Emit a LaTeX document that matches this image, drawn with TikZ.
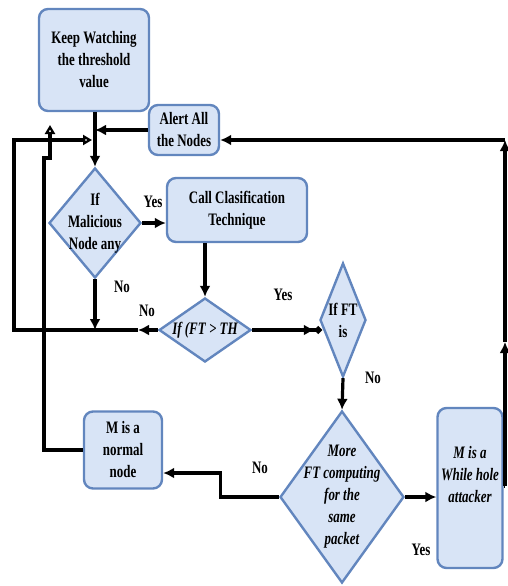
\documentclass[tikz,border=0pt]{standalone}
\usepackage{fontspec}
\setmainfont{Liberation Serif}[FakeStretch=0.74]
\usepackage{tikz}
\usetikzlibrary{arrows.meta,positioning,calc,shapes.geometric}
\definecolor{boxfill}{RGB}{216,228,246}
\definecolor{boxline}{RGB}{98,134,190}
\newcommand{\flowfont}{\fontsize{17.5}{22}\selectfont\bfseries}
\tikzstyle{procbox}=[draw=boxline,fill=boxfill,line width=2.4pt,rounded corners=9pt,align=center,inner sep=1pt,font=\flowfont]
\tikzstyle{decision}=[diamond,draw=boxline,fill=boxfill,line width=2.4pt,inner sep=0pt]
\tikzstyle{flow}=[line width=3.2pt,-{Latex[length=11pt,width=11pt]}]
\tikzstyle{hollow}=[line width=3.2pt,-{Triangle[open,length=9pt,width=10pt,fill=white]}]
\tikzstyle{tag}=[font=\flowfont]

\begin{document}
\begin{tikzpicture}[x=1pt,y=-1pt]
    \useasboundingbox (0,0) rectangle (507,586);
    % boxes
    \node [procbox,minimum width=110pt,minimum height=102pt] (watch) at (94,60) {Keep Watching\\the threshold\\value};
    \node [procbox,minimum width=70pt,minimum height=50pt] (alert) at (184,130) {Alert All\\the Nodes};
    \node [procbox,minimum width=140pt,minimum height=64pt] (call) at (237,210) {Call Clasification\\Technique};
    \node [procbox,minimum width=78pt,minimum height=77pt] (normal) at (123,450) {M is a\\normal\\node};
    \node [procbox,minimum width=65pt,minimum height=160pt,font=\flowfont\itshape] (attacker) at (470,488) {M is a\\While hole\\attacker\\[6pt]\mbox{}};
    % decisions
    \node [decision,minimum width=92pt,minimum height=110pt,
      label={[align=center,tag]center:If\\Malicious\\Node any}] (malic) at (95,223) {};
    \node [decision,minimum width=92pt,minimum height=64pt,
      label={[align=center,tag,font=\flowfont\itshape]center:If (FT > TH}] (ftth) at (205,330) {};
    \node [decision,minimum width=46pt,minimum height=114pt,
      label={[align=center,tag]center:If FT\\is}] (ftis) at (343,320) {};
    \node [decision,minimum width=124pt,minimum height=172pt,
      label={[align=center,tag,font=\flowfont\itshape]center:More\\FT computing\\for the\\same\\packet}] (more) at (342,497) {};

    \coordinate (merge) at (95,140);
    \coordinate (loopleft) at (14,330);
    \coordinate (nohead) at (138,330);
    \coordinate (rtop) at (505,140);
    \coordinate (rmid) at (505,342);
    \coordinate (rbot) at (505,486);
    \coordinate (dangle) at (50,125);

    \draw [flow] (watch.south -| merge) -- (malic.north);
    \draw [flow] (alert.west) -- (alert.west -| merge);
    \draw [flow] (malic.east) -- (malic.east -| call.west);
    \draw [flow] (ftth.north |- call.south) -- (ftth.north);
    \draw [flow] (malic.south) -- (malic.south |- loopleft);
    \draw [flow] (ftth.west) -- (nohead);
    \draw [hollow] (nohead) -- (loopleft) |- ([xshift=-3pt]merge);
    \draw [line width=3.2pt,-{Latex[length=11pt,width=11pt]Circle[length=7pt]}] (ftth.east) -- ([xshift=3pt]ftis.west |- ftth.east);
    \draw [flow] (ftis.south) -- (more.north);
    \draw [flow] (more.east) -- (more.east -| attacker.west);
    \draw [flow] (more.west) -- ++(-58,0) |- ([yshift=-23pt]normal.east);
    \draw [hollow] (normal.west) -| (44,158) -- (50,158) -- (dangle);
    \draw [line width=3.2pt] (attacker.east |- rbot) -- (rbot);
    \draw [flow] (rbot) -- (rmid);
    \draw [flow] (rmid) -- (rtop);
    \draw [flow] (rtop) -- ([yshift=-10pt]alert.east);

    % branch labels
    \node [tag] (yesa) at (153,202) {Yes};
    \node [tag] (noa) at (122,287) {No};
    \node [tag] (nob) at (147,311) {No};
    \node [tag] (yesb) at (283,295) {Yes};
    \node [tag] (noc) at (373,378) {No};
    \node [tag] (nod) at (260,468) {No};
    \node [tag] (yesc) at (421,550) {Yes};
\end{tikzpicture}
\end{document}
